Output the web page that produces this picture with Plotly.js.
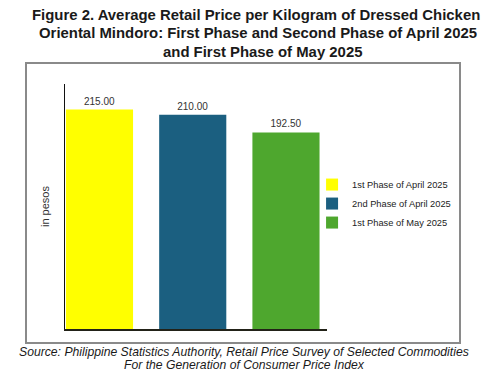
<!DOCTYPE html>
<html>
<head>
<meta charset="utf-8">
<script src="https://cdn.plot.ly/plotly-3.0.1.min.js"></script>
<style>html,body{margin:0;padding:0;background:#fff;}#chart{width:494px;height:374px;}</style>
</head>
<body>
<div id="chart"></div>
<script>
var seriesNames = ["1st Phase of April 2025", "2nd Phase of April 2025", "1st Phase of May 2025"];
var seriesValues = [215.00, 210.00, 192.50];
var seriesColors = ["#ffff00", "#1b5f80", "#4ea72e"];
var valueLabels = ["215.00", "210.00", "192.50"];
var titleLines = [
  "Figure 2. Average Retail Price per Kilogram of Dressed Chicken",
  "Oriental Mindoro: First Phase and Second Phase of April 2025",
  "and First Phase of May 2025"
];
var sourceLines = [
  "Source: Philippine Statistics Authority, Retail Price Survey of Selected Commodities",
  "For the Generation of Consumer Price Index"
];
var yTitle = "in pesos";

var traces = seriesNames.map(function (name, i) {
  return {
    type: "bar",
    name: name,
    x: [name],
    y: [seriesValues[i]],
    text: [valueLabels[i]],
    textposition: "outside",
    cliponaxis: false,
    textfont: {family: "Liberation Sans, Arial, sans-serif", size: 10, color: "#333333"},
    marker: {color: seriesColors[i]},
    width: 0.72,
    hoverinfo: "none"
  };
});

function py(p) { return (329 - p) / 245; }
function px(p) { return (p - 65) / 262; }

var titleY = [15, 33.5, 52];
var titleX = [256, 258, 262];
var sourceY = [352.3, 364.6];

var annotations = [];
titleLines.forEach(function (t, i) {
  annotations.push({text: "<b>" + t + "</b>", xref: "paper", yref: "paper", x: px(titleX[i]), y: py(titleY[i]),
    xanchor: "center", yanchor: "middle", showarrow: false,
    font: {family: "Liberation Sans, Arial, sans-serif", size: 14.9, color: "#1a1a1a"}});
});
sourceLines.forEach(function (t, i) {
  annotations.push({text: "<i>" + t + "</i>", xref: "paper", yref: "paper", x: px(244), y: py(sourceY[i]),
    xanchor: "center", yanchor: "middle", showarrow: false,
    font: {family: "Liberation Sans, Arial, sans-serif", size: 12.2, color: "#1a1a1a"}});
});

var layout = {
  width: 494,
  height: 374,
  margin: {l: 65, r: 167, t: 84, b: 45, pad: 0},
  paper_bgcolor: "#ffffff",
  plot_bgcolor: "#ffffff",
  barmode: "overlay",
  showlegend: true,
  font: {family: "Liberation Sans, Arial, sans-serif", color: "#222"},
  xaxis: {
    type: "category",
    categoryorder: "array",
    categoryarray: seriesNames,
    range: [-0.37, 2.44],
    showticklabels: false,
    ticks: "",
    showgrid: false,
    zeroline: false,
    showline: true,
    linecolor: "#222218",
    linewidth: 2,
    fixedrange: true
  },
  yaxis: {
    range: [0, 240],
    showticklabels: false,
    ticks: "",
    showgrid: false,
    zeroline: false,
    showline: true,
    linecolor: "#111111",
    linewidth: 1.5,
    automargin: true,
    title: {text: yTitle, standoff: 11, font: {family: "Liberation Sans, Arial, sans-serif", size: 11, color: "#333"}},
    fixedrange: true
  },
  legend: {
    x: 0.943, xanchor: "left",
    y: 0.512, yanchor: "middle",
    bgcolor: "rgba(0,0,0,0)",
    font: {family: "Liberation Sans, Arial, sans-serif", size: 9.3, color: "#222"},
    itemclick: false, itemdoubleclick: false
  },
  shapes: [{
    type: "rect", xref: "paper", yref: "paper",
    x0: px(26), x1: px(460), y0: py(343), y1: py(63),
    line: {color: "#8a8a8a", width: 2}, fillcolor: "rgba(0,0,0,0)", layer: "below"
  }],
  annotations: annotations
};

Plotly.newPlot("chart", traces, layout, {staticPlot: true, displayModeBar: false});
</script>
</body>
</html>
